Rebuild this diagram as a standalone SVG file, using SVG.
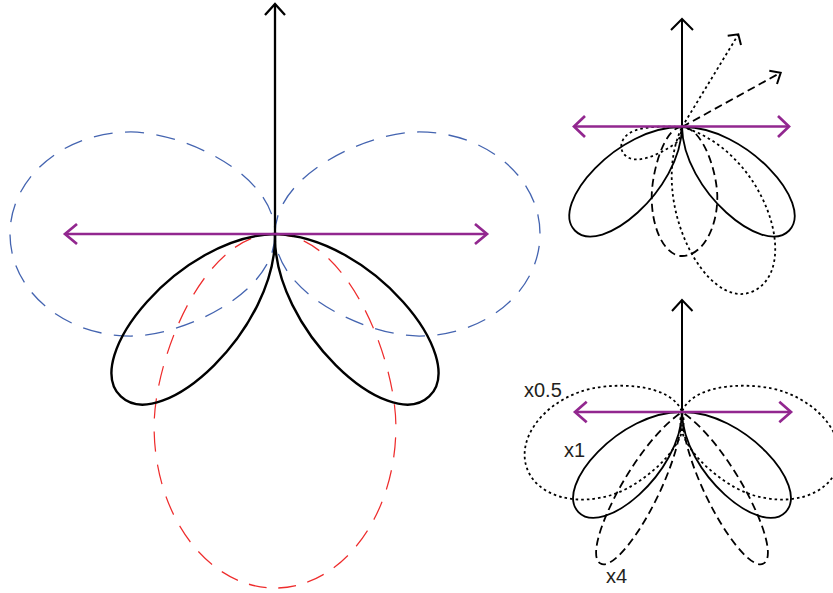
<svg xmlns="http://www.w3.org/2000/svg" width="833" height="593" viewBox="0 0 833 593">
<defs>
<style>
.bg{fill:#fff}
.ax{fill:none;stroke:#000;stroke-width:2}
.axL{fill:none;stroke:#000;stroke-width:2.3}
.pu{fill:none;stroke:#92278f;stroke-width:2.7}
.blue{fill:none;stroke:#4464b0;stroke-width:0.49;stroke-dasharray:7.2 4.7}
.red{fill:none;stroke:#ee2c2c;stroke-width:0.39;stroke-dasharray:5.7 3.7}
.solidL{fill:none;stroke:#000;stroke-width:1.07}
.solidTR{fill:none;stroke:#000;stroke-width:1.22}
.solidBR{fill:none;stroke:#000;stroke-width:1.26}
.dash{fill:none;stroke:#000;stroke-width:1.8;stroke-dasharray:8 4.5}
.dot{fill:none;stroke:#000;stroke-width:1.8;stroke-dasharray:2.6 3}
.lbl{font-family:"Liberation Sans",Arial,sans-serif;font-size:20px;fill:#231f20}
</style>
<path id="lobeA" d="M0,0 C30,-30 100,-25 100,0 C100,25 30,30 0,0 Z"/>
<path id="lobeB" d="M0,0 C0,-22.9 35.4,-38.5 54.4,-38.5 C79.6,-38.5 100,-21.3 100,0 C100,21.3 79.6,38.5 54.4,38.5 C35.4,38.5 0,22.9 0,0 Z"/>
</defs>
<rect class="bg" x="0" y="0" width="833" height="593"/>

<g id="main-diagram">
  <use href="#lobeB" class="blue" transform="translate(275,234) rotate(180) scale(2.65)"/>
  <use href="#lobeB" class="blue" transform="translate(275,234) scale(2.65)"/>
  <use href="#lobeB" class="red" transform="translate(275,234) rotate(90) scale(3.54,3.14)"/>
  <use href="#lobeA" class="solidL" transform="translate(275,234) rotate(133.5) scale(2.24)"/>
  <use href="#lobeA" class="solidL" transform="translate(275,234) rotate(46.5) scale(2.24)"/>
  <g id="main-axes">
    <line class="axL" x1="275" y1="234" x2="275" y2="4"/>
    <polyline class="axL" points="265,15 275,4 285,15"/>
    <line class="pu" x1="65" y1="234" x2="487" y2="234"/>
    <polyline class="pu" points="77,224 65,234 77,244"/>
    <polyline class="pu" points="475,224 487,234 475,244"/>
  </g>
</g>

<g id="velocity-diagram">
  <use href="#lobeA" class="solidTR" transform="translate(682,127) rotate(136) scale(1.49)"/>
  <use href="#lobeA" class="solidTR" transform="translate(682,127) rotate(44) scale(1.49)"/>
  <path class="dash" d="M682,127 C664,127 651.7,172.7 651.7,197.2 C651.7,229.7 665.2,256 682,256 C701.5,256 717.3,229.7 717.3,197.2 C717.3,172.7 703,127 682,127 Z"/>
  <path class="dot" d="M682,127 C660,126 634,126 625,137 C618,145 621,156 632,159 C646,162 666,150 676,143 C680,140 681,132 682,127 Z"/>
  <path class="dot" d="M682,127 C764.8,150.2 803.5,269.9 751.9,291.8 C705.9,311.3 647.8,199.9 682,127 Z"/>
  <g id="velocity-axes">
    <line class="dot" x1="682" y1="127" x2="738" y2="35"/>
    <polyline class="ax" points="727.7,35.7 738.3,34.3 741,45"/>
    <line class="dash" x1="682" y1="127" x2="780" y2="73"/>
    <polyline class="ax" points="769.3,70.7 780.7,72.7 777,84"/>
    <line class="ax" x1="682" y1="127" x2="682" y2="19"/>
    <polyline class="ax" points="671,30 682,19 693,30"/>
    <line class="pu" x1="574" y1="126.5" x2="789" y2="126.5"/>
    <polyline class="pu" points="585,116 574,126.5 585,137"/>
    <polyline class="pu" points="778,116 789,126.5 778,137"/>
  </g>
</g>

<g id="ratio-diagram">
  <path id="dotL" class="dot" d="M682,412 C693.0,442.1 645.5,482.6 616.1,493.4 C577.0,507.6 537.2,496.5 527.0,468.4 C516.8,440.4 540.2,406.3 579.2,392.1 C608.7,381.3 671.0,381.9 682,412 Z"/>
  <use href="#dotL" transform="matrix(-1,0,0,1,1364,0)"/>
  <use href="#lobeA" class="solidBR" transform="translate(682,412) rotate(136) scale(1.44)"/>
  <use href="#lobeA" class="solidBR" transform="translate(682,412) rotate(44) scale(1.44)"/>
  <path id="dashL" class="dash" d="M682,412 C681.8,470.5 620.6,574.3 600.5,563.5 C580.3,552.6 633.3,444.4 682,412 Z"/>
  <use href="#dashL" transform="matrix(-1,0,0,1,1364,0)"/>
  <g id="ratio-axes">
    <line class="ax" x1="682" y1="412" x2="682" y2="300"/>
    <polyline class="ax" points="672,311 682,300 692.5,311"/>
    <line class="pu" x1="575" y1="412" x2="791" y2="412"/>
    <polyline class="pu" points="586.7,401.7 575,412 586.7,422.3"/>
    <polyline class="pu" points="779.3,401.7 791,412 779.3,422.3"/>
  </g>
  <text class="lbl" x="524" y="397">x0.5</text>
  <text class="lbl" x="564" y="457">x1</text>
  <text class="lbl" x="606" y="583">x4</text>
</g>
</svg>
